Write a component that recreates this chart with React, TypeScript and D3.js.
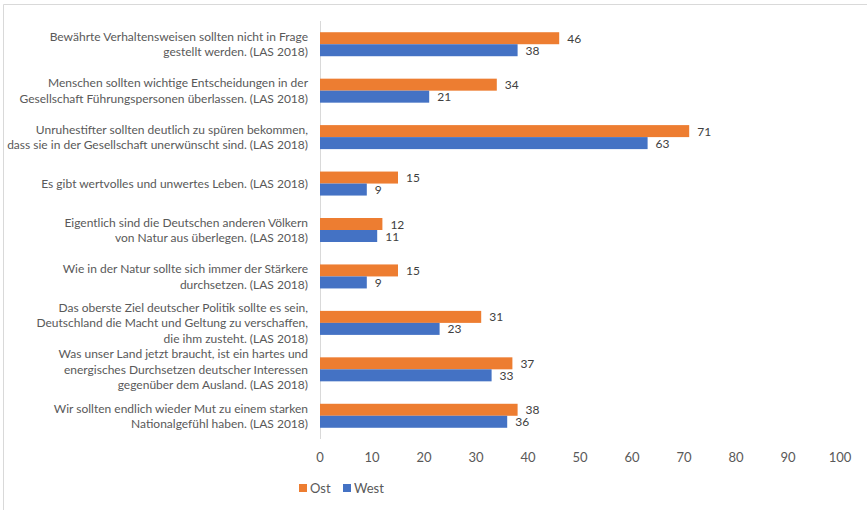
import React from "react";
import * as d3 from "d3";

const categories: string[][] = [
  ["Bewährte Verhaltensweisen sollten nicht in Frage", "gestellt werden. (LAS 2018)"],
  ["Menschen sollten wichtige Entscheidungen in der", "Gesellschaft Führungspersonen überlassen. (LAS 2018)"],
  ["Unruhestifter sollten deutlich zu spüren bekommen,", "dass sie in der Gesellschaft unerwünscht sind. (LAS 2018)"],
  ["Es gibt wertvolles und unwertes Leben. (LAS 2018)"],
  ["Eigentlich sind die Deutschen anderen Völkern", "von Natur aus überlegen. (LAS 2018)"],
  ["Wie in der Natur sollte sich immer der Stärkere", "durchsetzen. (LAS 2018)"],
  ["Das oberste Ziel deutscher Politik sollte es sein,", "Deutschland die Macht und Geltung zu verschaffen,", "die ihm zusteht. (LAS 2018)"],
  ["Was unser Land jetzt braucht, ist ein hartes und", "energisches Durchsetzen deutscher Interessen", "gegenüber dem Ausland. (LAS 2018)"],
  ["Wir sollten endlich wieder Mut zu einem starken", "Nationalgefühl haben. (LAS 2018)"],
];
const ostValues = [46, 34, 71, 15, 12, 15, 31, 37, 38];
const westValues = [38, 21, 63, 9, 11, 9, 23, 33, 36];
const seriesNames = ["Ost", "West"];
const seriesColors = ["#ED7D31", "#4472C4"];
const xTicks = [0, 10, 20, 30, 40, 50, 60, 70, 80, 90, 100];

const W = 867;
const H = 510;
const FONT = "Lato, 'Open Sans', sans-serif";

export default function App() {
  const x = d3.scaleLinear().domain([0, 100]).range([320, 840]);
  const idx = categories.map((_, i) => String(i));
  const y = d3.scaleBand<string>().domain(idx).range([21, 439]);
  const bw = y.bandwidth();
  const barH = 12;
  const y1 = d3
    .scaleBand<string>()
    .domain(seriesNames)
    .range([(bw - 2 * barH) / 2, (bw + 2 * barH) / 2]);
  const series = [ostValues, westValues];
  const lineH = 15.5;

  return (
    <div style={{ position: "absolute", left: 0, top: 0 }}>
      <svg width={W} height={H} style={{ display: "block", background: "#fff" }}>
        <rect x={0} y={0} width={W} height={H} fill="#fff" />
        <line x1={3.5} x2={W} y1={4.5} y2={4.5} stroke="#d9d9d9" />
        <line x1={3.5} x2={3.5} y1={4.5} y2={H} stroke="#d9d9d9" />
        {/* axis line */}
        <line x1={x(0) + 0.5} x2={x(0) + 0.5} y1={y.range()[0]} y2={y.range()[1]} stroke="#d9d9d9" />
        {/* bars */}
        {series.map((vals, s) =>
          vals.map((v, i) => {
            const yy = (y(String(i)) as number) + (y1(seriesNames[s]) as number);
            return (
              <g key={`${s}-${i}`}>
                <rect x={x(0)} y={yy} width={x(v) - x(0)} height={y1.bandwidth()} fill={seriesColors[s]} />
                <text
                  x={x(v) + 8}
                  y={yy + y1.bandwidth() / 2}
                  dominantBaseline="central"
                  fontFamily={FONT}
                  fontSize={12}
                  fill="#404040"
                >
                  {v}
                </text>
              </g>
            );
          })
        )}
        {/* category labels */}
        {categories.map((lines, i) => {
          const cy = (y(String(i)) as number) + bw / 2;
          const n = lines.length;
          return (
            <text key={i} textAnchor="end" fontFamily={FONT} fontSize={12} fill="#595959">
              {lines.map((l, j) => (
                <tspan key={j} x={308} y={cy + (j - (n - 1) / 2) * lineH} dominantBaseline="central">
                  {l}
                </tspan>
              ))}
            </text>
          );
        })}
        {/* x tick labels */}
        {xTicks.map((t) => (
          <text
            key={t}
            x={x(t)}
            y={457}
            textAnchor="middle"
            dominantBaseline="central"
            fontFamily={FONT}
            fontSize={13}
            fill="#595959"
          >
            {t}
          </text>
        ))}
        {/* legend */}
        {seriesNames.map((name, s) => {
          const lx = s === 0 ? 299 : 343;
          return (
            <g key={name}>
              <rect x={lx} y={484} width={8} height={8} fill={seriesColors[s]} />
              <text x={lx + 11} y={488} dominantBaseline="central" fontFamily={FONT} fontSize={13} fill="#595959">
                {name}
              </text>
            </g>
          );
        })}
      </svg>
    </div>
  );
}
